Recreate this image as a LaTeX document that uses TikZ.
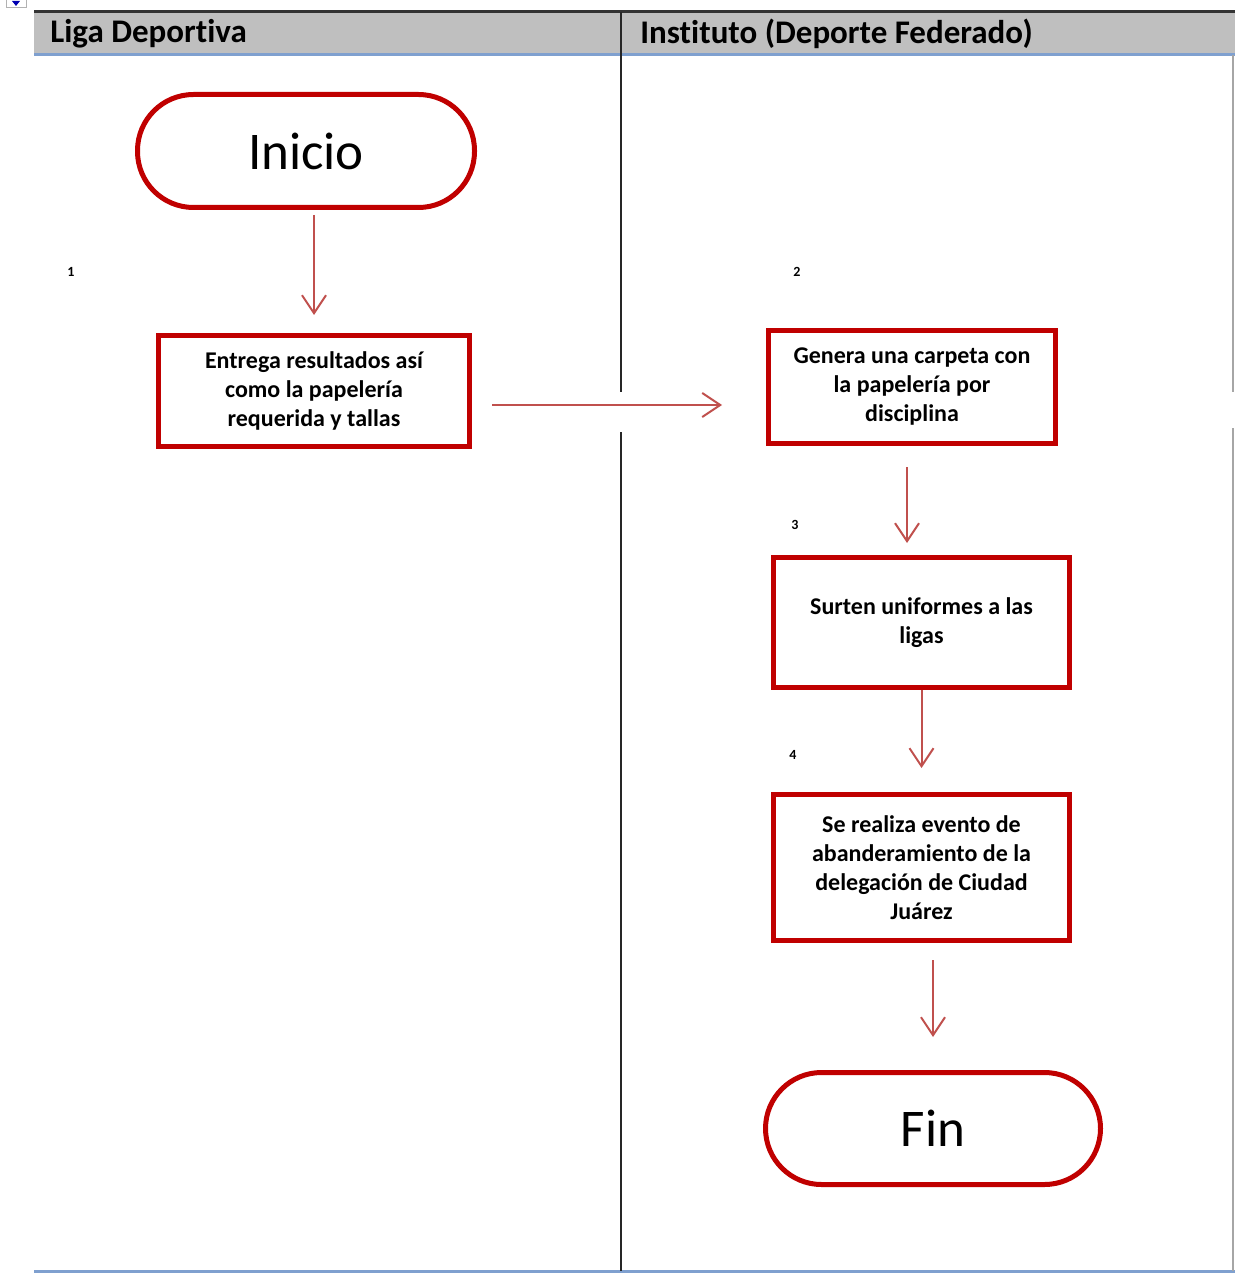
\documentclass[tikz,border=0pt]{standalone}
\usepackage{fontspec}
\setmainfont{Carlito}[Ligatures=NoCommon]
\usetikzlibrary{arrows.meta}
\definecolor{boxred}{HTML}{C00000}
\definecolor{arrred}{HTML}{C0504D}
\definecolor{hdrgray}{HTML}{BFBFBF}
\definecolor{hdrblue}{HTML}{7FA0CF}
\tikzset{
  stepbox/.style={draw=boxred, line width=2.5pt, fill=white, align=center, inner sep=0pt,
    font=\bfseries\fontsize{12}{14.5}\selectfont},
  termbox/.style={draw=boxred, line width=2.5pt, fill=white, inner sep=0pt,
    font=\fontsize{26.5}{30}\selectfont},
  arr/.style={draw=arrred, line width=1pt, -{Straight Barb[length=9pt,width=12pt,line width=1pt]}},
  numlbl/.style={font=\bfseries\fontsize{7}{8}\selectfont, inner sep=0pt},
  hdrtxt/.style={font=\bfseries\fontsize{16.5}{18}\selectfont, anchor=west, inner sep=0pt},
}
\begin{document}
\begin{tikzpicture}[x=0.5pt,y=-0.5pt]
\useasboundingbox (0,0) rectangle (1235,1283);
% header
\fill[hdrgray] (34,13) rectangle (1235,53);
\draw[black!80, line width=1.5pt] (34,12) -- (1235,12);
\draw[hdrblue, line width=1.5pt] (34,55) -- (1235,55);
\draw[hdrblue, line width=1.5pt] (34,1271) -- (1235,1271);
% lane divider
\draw[black!85, line width=1pt] (621,12) -- (621,392);
\draw[black!85, line width=1pt] (621,432) -- (621,1271);
% right edge
\draw[black!35, line width=0.6pt] (1233,55) -- (1233,392);
\draw[black!35, line width=0.6pt] (1233,428) -- (1233,1271);
% small icon
\draw[black!30, line width=0.4pt] (6,0) -- (6,7) -- (26,7) -- (26,0);
\fill[blue!70!black] (12,1) -- (20,1) -- (16,6) -- cycle;
\node[hdrtxt] (h1) at (50,34) {Liga Deportiva};
\node[hdrtxt] (h2) at (640,34) {Instituto (Deporte Federado)};
% nodes
\node[termbox, minimum width=168.5pt, minimum height=56.5pt, rounded corners=28pt] (ini) at (306,151) {Inicio};
\node[stepbox, minimum width=155.5pt, minimum height=55.5pt] (b1) at (314,391) {Entrega resultados así\\como la papelería\\requerida y tallas};
\node[stepbox, minimum width=143.5pt, minimum height=56.5pt] (b2) at (912,387) {Genera una carpeta con\\la papelería por\\disciplina};
\node[stepbox, minimum width=148pt, minimum height=65pt] (b3) at (921.5,622.5) {Surten uniformes a las\\ligas};
\node[stepbox, minimum width=148pt, minimum height=73pt] (b4) at (921.5,867.5) {Se realiza evento de\\abanderamiento de la\\delegación de Ciudad\\Juárez};
\node[termbox, minimum width=167.5pt, minimum height=56pt, rounded corners=28pt] (fin) at (933,1128.5) {Fin};
% step numbers
\node[numlbl] (n1) at (71,272) {1};
\node[numlbl] (n2) at (797,272) {2};
\node[numlbl] (n3) at (795,525) {3};
\node[numlbl] (n4) at (793,755) {4};
% connectors
\draw[arr, shorten <=2.5pt, shorten >=9pt] (ini.south -| b1.north) -- (b1.north);
\draw[arr, shorten <=10pt, shorten >=22pt] ([yshift=-7pt]b1.east) -- ([yshift=-7pt]b1.east -| b2.west);
\draw[arr, shorten <=10.5pt, shorten >=6pt] ([xshift=-2.5pt]b2.south) -- ([xshift=-2.5pt]b2.south |- b3.north);
\draw[arr, shorten >=12pt] (b3.south) -- (b4.north);
\draw[arr, shorten <=8.5pt, shorten >=16.5pt] (b4.south -| fin.north) -- (fin.north);
\end{tikzpicture}
\end{document}
